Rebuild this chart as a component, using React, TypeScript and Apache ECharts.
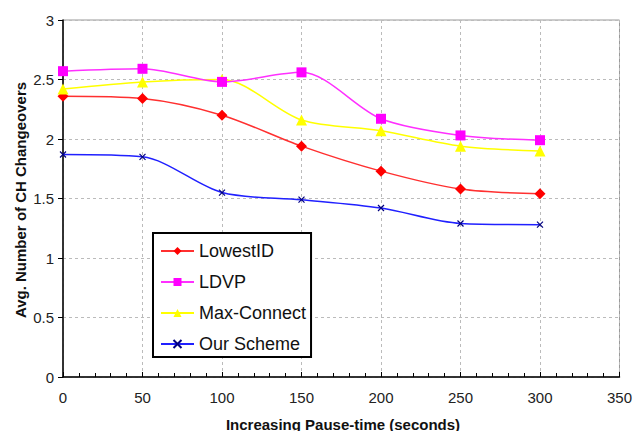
import React, { useEffect, useRef } from "react";
import * as echarts from "echarts";

const pauseTimes = [0, 50, 100, 150, 200, 250, 300];
const lowestID = [2.36, 2.34, 2.2, 1.94, 1.73, 1.58, 1.54];
const ldvp = [2.57, 2.59, 2.48, 2.56, 2.17, 2.03, 1.99];
const maxConnect = [2.42, 2.48, 2.5, 2.16, 2.07, 1.94, 1.9];
const ourScheme = [1.87, 1.85, 1.55, 1.49, 1.42, 1.29, 1.28];

const xTitle = "Increasing Pause-time (seconds)";
const yTitle = "Avg. Number of CH Changeovers";

const FONT = "Arial, 'Liberation Sans', sans-serif";

function pairs(vals: number[]) {
  return pauseTimes.map((x, i) => [x, vals[i]]);
}

export default function App() {
  const ref = useRef<HTMLDivElement>(null);
  useEffect(() => {
    if (!ref.current) return;
    const chart = echarts.init(ref.current, undefined, { renderer: "svg" });
    const mk = (name: string, data: number[], color: string, lineColor: string, symbol: string, size: number, extra: any = {}) => ({
      name,
      type: "line",
      data: pairs(data),
      smooth: 0.3,
      symbol,
      symbolSize: size,
      lineStyle: { color: lineColor, width: 1.5 },
      itemStyle: { color, ...(extra.itemStyle || {}) },
    });
    chart.setOption({
      animation: false,
      backgroundColor: "#fff",
      grid: {
        left: 63,
        top: 20,
        right: 11,
        bottom: 54,
        show: true,
        borderColor: "#999",
        borderWidth: 1,
      },
      xAxis: {
        type: "value",
        min: 0,
        max: 350,
        interval: 50,
        axisLine: { lineStyle: { color: "#000", width: 1.5 } },
        axisTick: { show: true, inside: true, length: 5, lineStyle: { color: "#000" } },
        minorTick: { show: true, splitNumber: 5, length: 4, lineStyle: { color: "#000" } },
        axisLabel: { color: "#222", fontSize: 15, fontFamily: FONT, margin: 13 },
        splitLine: { show: true, lineStyle: { color: "#bbb", type: [3, 3], width: 1 } },
      },
      yAxis: {
        type: "value",
        min: 0,
        max: 3,
        interval: 0.5,
        axisLine: { show: true, lineStyle: { color: "#000", width: 1.5 } },
        axisTick: { show: true, inside: false, length: 5, lineStyle: { color: "#000" } },
        axisLabel: { color: "#222", fontSize: 15, fontFamily: FONT, margin: 9 },
        splitLine: { show: true, lineStyle: { color: "#bbb", type: [3, 3], width: 1 } },
      },
      legend: {
        orient: "vertical",
        left: 153,
        top: 233,
        padding: [8, 5, 3, 7],
        itemWidth: 33,
        itemHeight: 10,
        itemGap: 11,
        borderColor: "#000",
        borderWidth: 2,
        backgroundColor: "#fff",
        textStyle: { fontSize: 18, fontFamily: FONT, color: "#111", lineHeight: 20, padding: [0, 0, 0, 0] },
        data: ["LowestID", "LDVP", "Max-Connect", "Our Scheme"],
      },
      series: [
        mk("Our Scheme", ourScheme, "#0000ff", "#2020ff", "path://M0,0L10,10M10,0L0,10", 6, {
          itemStyle: { borderColor: "#000080", borderWidth: 1.2 },
        }),
        mk("LowestID", lowestID, "#ff0000", "#ff3030", "diamond", 11),
        mk("Max-Connect", maxConnect, "#ffff00", "#ffff00", "triangle", 11),
        mk("LDVP", ldvp, "#ff00ff", "#ff30ff", "rect", 10),
      ],
      graphic: [
        {
          type: "text",
          x: 20,
          y: 200,
          rotation: Math.PI / 2,
          style: {
            text: yTitle,
            font: `bold 15px ${FONT}`,
            fill: "#111",
            textAlign: "center",
            textVerticalAlign: "middle",
          },
        },
        {
          type: "text",
          x: 343,
          y: 424,
          style: {
            text: xTitle,
            font: `bold 15px ${FONT}`,
            fill: "#111",
            textAlign: "center",
            textVerticalAlign: "middle",
          },
        },
      ],
    });
    return () => chart.dispose();
  }, []);
  return <div ref={ref} style={{ width: 635, height: 431, position: "absolute", left: 0, top: 0 }} />;
}
